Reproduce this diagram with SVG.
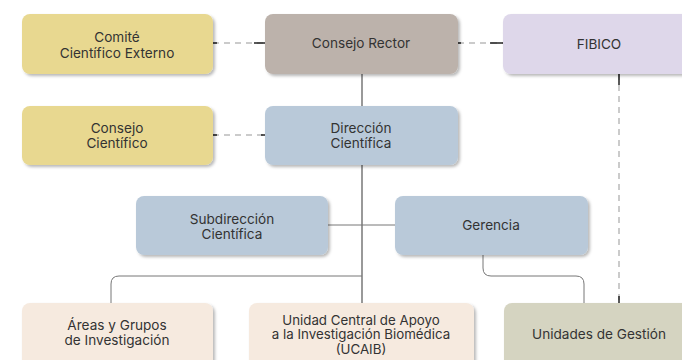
<svg xmlns="http://www.w3.org/2000/svg" width="682" height="360" viewBox="0 0 682 360">
<defs>
<filter id="sh" x="-10%" y="-20%" width="130%" height="150%">
<feDropShadow dx="2" dy="2" stdDeviation="1.5" flood-color="#000" flood-opacity="0.28"/>
</filter>
</defs>
<style>
.box{filter:url(#sh)}
text{font-family:Inter,"Noto Sans","Liberation Sans",sans-serif;font-size:13.6px;fill:#333;text-anchor:middle}
.sm{font-size:13.3px}
.ln{fill:none;stroke:#555;stroke-width:1.2}
.lt{fill:none;stroke:#777;stroke-width:1}
.ds{fill:none;stroke:#bbb;stroke-width:1.5;stroke-dasharray:6 5}
.de{fill:none;stroke:#222;stroke-width:1.5}
</style>
<rect width="682" height="360" fill="#fff"/>
<g id="connectors">
<line class="ln" x1="362" y1="74" x2="362" y2="106"/>
<line class="ln" x1="362" y1="165" x2="362" y2="303"/>
<line class="lt" x1="328" y1="225" x2="395" y2="225"/>
<path class="lt" d="M362 276 H119 Q111 276 111 284 V303"/>
<path class="lt" d="M483 255 V268 Q483 276 491 276 H576 Q584 276 584 284 V303"/>
<line class="ds" x1="213" y1="43" x2="265" y2="43"/>
<line class="de" x1="213" y1="43" x2="217" y2="43"/>
<line class="de" x1="254" y1="43" x2="265" y2="43"/>
<line class="ds" x1="458" y1="43" x2="503" y2="43"/>
<line class="de" x1="458" y1="43" x2="461" y2="43"/>
<line class="de" x1="490" y1="43" x2="503" y2="43"/>
<line class="ds" x1="213" y1="135" x2="265" y2="135"/>
<line class="de" x1="213" y1="135" x2="217" y2="135"/>
<line class="de" x1="261" y1="135" x2="265" y2="135"/>
<line class="ds" x1="619" y1="74" x2="619" y2="303"/>
<line class="de" x1="619" y1="74" x2="619" y2="85"/>
<line class="de" x1="619" y1="296" x2="619" y2="303"/>
</g>
<g id="comite"><rect class="box" x="22" y="14" width="191" height="60" rx="8" fill="#e8d890"/><text x="117" y="42">Comité</text><text x="117" y="58">Científico Externo</text></g>
<g id="rector"><rect class="box" x="265" y="14" width="193" height="60" rx="8" fill="#bcb2ab"/><text x="361" y="48">Consejo Rector</text></g>
<g id="fibico"><rect class="box" x="503" y="14" width="192" height="60" rx="8" fill="#ded7ea"/><text x="599" y="49">FIBICO</text></g>
<g id="consejo"><rect class="box" x="22" y="106" width="191" height="59" rx="8" fill="#e8d890"/><text x="117" y="133">Consejo</text><text x="117" y="148">Científico</text></g>
<g id="direccion"><rect class="box" x="265" y="106" width="193" height="59" rx="8" fill="#b9c9d9"/><text x="361" y="133">Dirección</text><text x="361" y="148">Científica</text></g>
<g id="subdireccion"><rect class="box" x="136" y="196" width="192" height="59" rx="8" fill="#b9c9d9"/><text x="232" y="224">Subdirección</text><text x="232" y="239">Científica</text></g>
<g id="gerencia"><rect class="box" x="395" y="196" width="193" height="59" rx="8" fill="#b9c9d9"/><text x="491" y="230">Gerencia</text></g>
<g id="areas"><rect class="box" x="22" y="303" width="191" height="70" rx="8" fill="#f6eadf"/><text x="117" y="330">Áreas y Grupos</text><text x="117" y="345">de Investigación</text></g>
<g id="ucaib"><rect class="box" x="249" y="303" width="225" height="70" rx="8" fill="#f6eadf"/><text class="sm" x="361" y="324.5">Unidad Central de Apoyo</text><text class="sm" x="361" y="339">a la Investigación Biomédica</text><text class="sm" x="361" y="353.5">(UCAIB)</text></g>
<g id="unidades"><rect class="box" x="504" y="303" width="191" height="70" rx="8" fill="#d5d4c1"/><text x="599" y="339">Unidades de Gestión</text></g>
</svg>
